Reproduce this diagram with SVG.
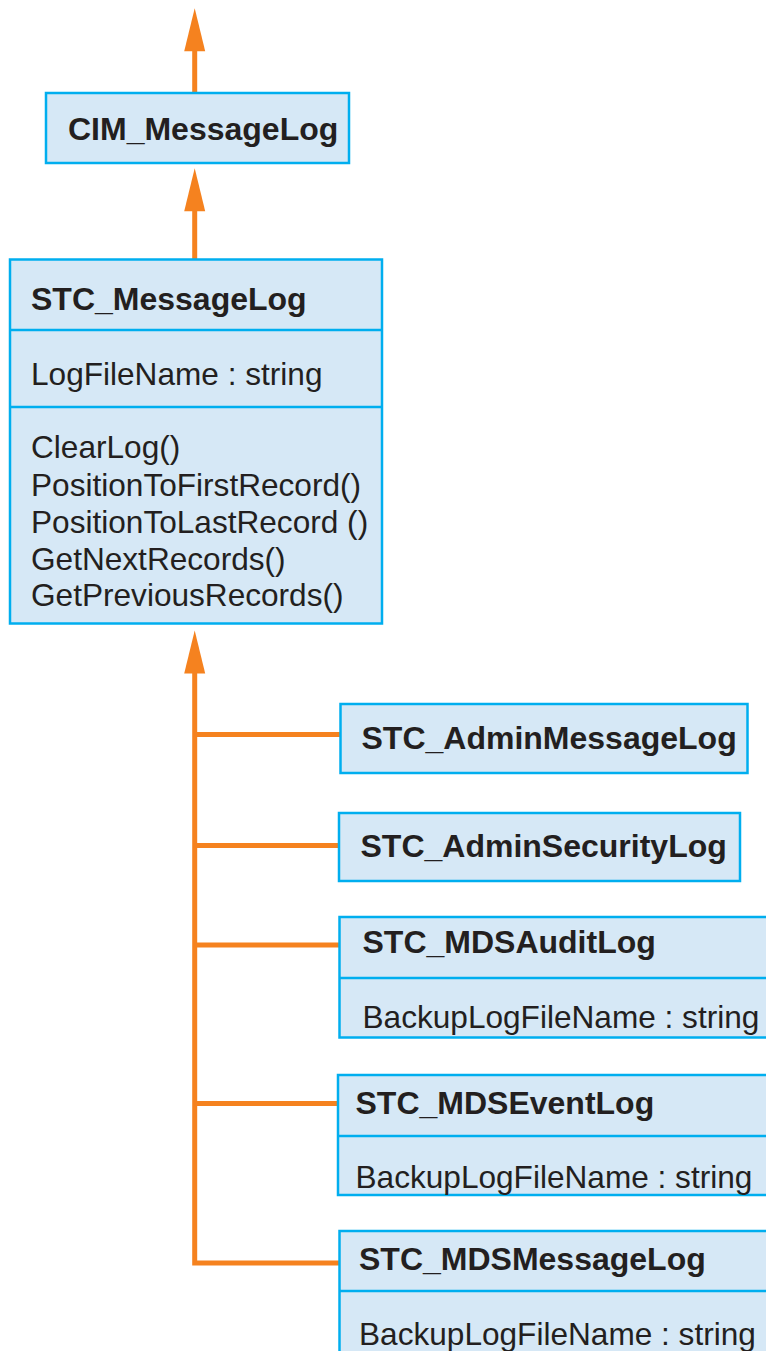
<svg xmlns="http://www.w3.org/2000/svg" xmlns:xlink="http://www.w3.org/1999/xlink" width="766" height="1351" viewBox="0 0 766 1351">
  <style>
    .box { fill: #d6e8f6; stroke: #00aeef; stroke-width: 2.5; }
    .div { stroke: #00aeef; stroke-width: 2.5; fill: none; }
    .edge { stroke: #f5821f; stroke-width: 5; fill: none; }
    .head { fill: #f5821f; }
    text { font-family: "Liberation Sans", Arial, Helvetica, sans-serif; font-size: 31.6px; fill: #231f20; }
    .title { font-weight: bold; font-size: 32px; }
  </style>
  <defs>
    <!-- generalization arrowhead, tip at origin pointing up -->
    <path id="head" class="head" d="M0,0 L10.5,43 L-10.5,43 Z"/>
  </defs>

  <rect width="766" height="1351" fill="#ffffff"/>

  <g id="connectors">
    <!-- CIM_MessageLog to its parent -->
    <line class="edge" x1="194.7" y1="50" x2="194.7" y2="93"/>
    <use xlink:href="#head" x="194.7" y="8.3"/>
    <!-- STC_MessageLog to CIM_MessageLog -->
    <line class="edge" x1="194.7" y1="210" x2="194.7" y2="259"/>
    <use xlink:href="#head" x="194.7" y="168.3"/>
    <!-- subclasses to STC_MessageLog -->
    <path class="edge" d="M194.7,672 V1263 H339"/>
    <line class="edge" x1="194.7" y1="734.5" x2="340" y2="734.5"/>
    <line class="edge" x1="194.7" y1="845.5" x2="339" y2="845.5"/>
    <line class="edge" x1="194.7" y1="945" x2="339" y2="945"/>
    <line class="edge" x1="194.7" y1="1103.5" x2="338" y2="1103.5"/>
    <use xlink:href="#head" x="194.7" y="630.5"/>
  </g>

  <g id="cim-messagelog">
    <rect class="box" x="46" y="93" width="303" height="70"/>
    <text class="title" x="68" y="140">CIM_MessageLog</text>
  </g>

  <g id="stc-messagelog">
    <rect class="box" x="10" y="259.5" width="372" height="364"/>
    <line class="div" x1="10" y1="330" x2="382" y2="330"/>
    <line class="div" x1="10" y1="407" x2="382" y2="407"/>
    <text class="title" x="31" y="310">STC_MessageLog</text>
    <text x="31" y="385">LogFileName : string</text>
    <text x="31" y="458">ClearLog()</text>
    <text x="31" y="495.5">PositionToFirstRecord()</text>
    <text x="31" y="532.5">PositionToLastRecord ()</text>
    <text x="31" y="569.5">GetNextRecords()</text>
    <text x="31" y="606">GetPreviousRecords()</text>
  </g>

  <g id="stc-adminmessagelog">
    <rect class="box" x="340.5" y="704" width="407" height="69"/>
    <text class="title" x="361.5" y="749">STC_AdminMessageLog</text>
  </g>

  <g id="stc-adminsecuritylog">
    <rect class="box" x="339" y="813" width="401" height="68"/>
    <text class="title" x="360.5" y="857">STC_AdminSecurityLog</text>
  </g>

  <g id="stc-mdsauditlog">
    <rect class="box" x="339.5" y="917" width="440" height="120.5"/>
    <line class="div" x1="339.5" y1="978" x2="780" y2="978"/>
    <text class="title" x="362.5" y="953">STC_MDSAuditLog</text>
    <text x="362.5" y="1028">BackupLogFileName : string</text>
  </g>

  <g id="stc-mdseventlog">
    <rect class="box" x="338" y="1075" width="440" height="120"/>
    <line class="div" x1="338" y1="1136" x2="780" y2="1136"/>
    <text class="title" x="355.5" y="1114">STC_MDSEventLog</text>
    <text x="355.5" y="1188">BackupLogFileName : string</text>
  </g>

  <g id="stc-mdsmessagelog">
    <rect class="box" x="339.5" y="1231" width="440" height="200"/>
    <line class="div" x1="339.5" y1="1291" x2="780" y2="1291"/>
    <text class="title" x="359" y="1270">STC_MDSMessageLog</text>
    <text x="359" y="1345">BackupLogFileName : string</text>
  </g>
</svg>
